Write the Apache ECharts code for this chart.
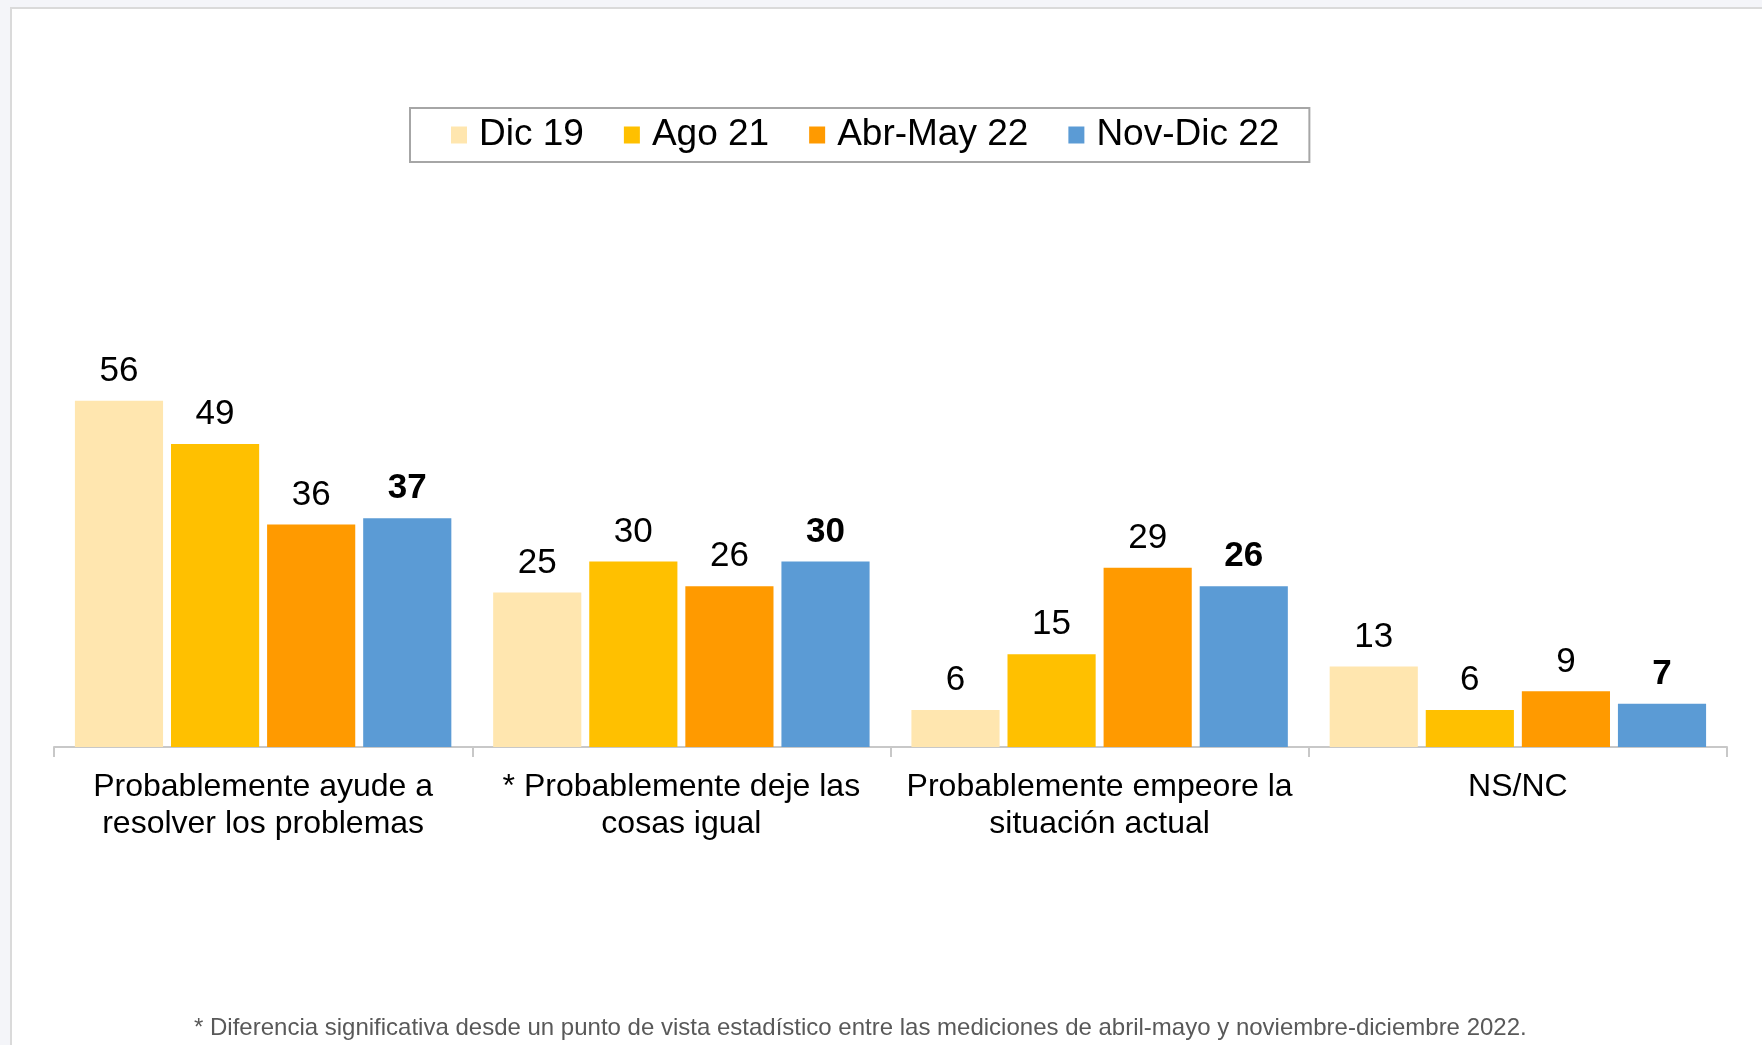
<!DOCTYPE html>
<html>
<head>
<meta charset="utf-8">
<script src="https://cdn.jsdelivr.net/npm/echarts@6/dist/echarts.min.js"></script>
<style>
  html, body { margin: 0; padding: 0; background: #f4f5f9; }
  #chart { width: 1762px; height: 1045px; }
</style>
</head>
<body>
<div id="chart"></div>
<script>
// categorías y mediciones
const categories = [
  "Probablemente ayude a\nresolver los problemas",
  "* Probablemente deje las\ncosas igual",
  "Probablemente empeore la\nsituación actual",
  "NS/NC"
];
const seriesNames = ["Dic 19", "Ago 21", "Abr-May 22", "Nov-Dic 22"];
const dic19 = [56, 25, 6, 13];
const ago21 = [49, 30, 15, 6];
const abrMay22 = [36, 26, 29, 9];
const novDic22 = [37, 30, 26, 7];
const footnote = "* Diferencia significativa desde un punto de vista estadístico entre las mediciones de abril-mayo y noviembre-diciembre 2022.";

const colors = ["#FFE6AF", "#FFC000", "#FF9A00", "#5B9BD5"];
const font = "'Liberation Sans', Arial, sans-serif";

let chart = echarts.init(document.getElementById("chart"));

function barSeries(name, data, color, bold) {
  return {
    name: name,
    type: "bar",
    data: data,
    barGap: "9%",
    barCategoryGap: "10%",
    itemStyle: { color: color },
    label: {
      show: true,
      position: "top",
      distance: 12,
      color: "#000",
      fontFamily: font,
      fontSize: 35,
      fontWeight: bold ? "bold" : "normal",
    },
  };
}

let option = {
  backgroundColor: "#f4f5f9",
  textStyle: { fontFamily: font },
  animation: false,
  graphic: [
    {
      type: "rect",
      shape: { x: 11, y: 8, width: 1800, height: 1100 },
      style: { fill: "#fff", stroke: "#dadada", lineWidth: 2 },
      z: -10,
    },
    {
      type: "text",
      left: 194,
      top: 1016,
      style: {
        text: footnote,
        fill: "#595959",
        font: "24px " + font,
      },
    },
  ],
  legend: {
    left: 410,
    top: 108,
    itemWidth: 16,
    itemHeight: 17,
    itemGap: 40,
    padding: [7, 30, 7, 41],
    borderColor: "#a6a6a6",
    borderWidth: 2,
    icon: "rect",
    textStyle: {
      fontFamily: font,
      fontSize: 37,
      color: "#000",
      lineHeight: 40,
      padding: [0, 0, 0, 7],
    },
    data: seriesNames,
  },
  grid: {
    left: 54,
    right: 35,
    top: 376,
    bottom: 298,
  },
  xAxis: {
    type: "category",
    data: categories,
    axisLine: { lineStyle: { color: "#c8c8c8", width: 2 } },
    axisTick: { show: true, length: 10, lineStyle: { color: "#c8c8c8", width: 2 } },
    axisLabel: {
      color: "#000",
      fontFamily: font,
      fontSize: 32,
      lineHeight: 37,
      margin: 22,
      interval: 0,
    },
  },
  yAxis: {
    type: "value",
    min: 0,
    max: 60,
    show: false,
    splitLine: { show: false },
  },
  series: [
    barSeries(seriesNames[0], dic19, colors[0], false),
    barSeries(seriesNames[1], ago21, colors[1], false),
    barSeries(seriesNames[2], abrMay22, colors[2], false),
    barSeries(seriesNames[3], novDic22, colors[3], true),
  ],
};

chart.setOption(option);
</script>
</body>
</html>
